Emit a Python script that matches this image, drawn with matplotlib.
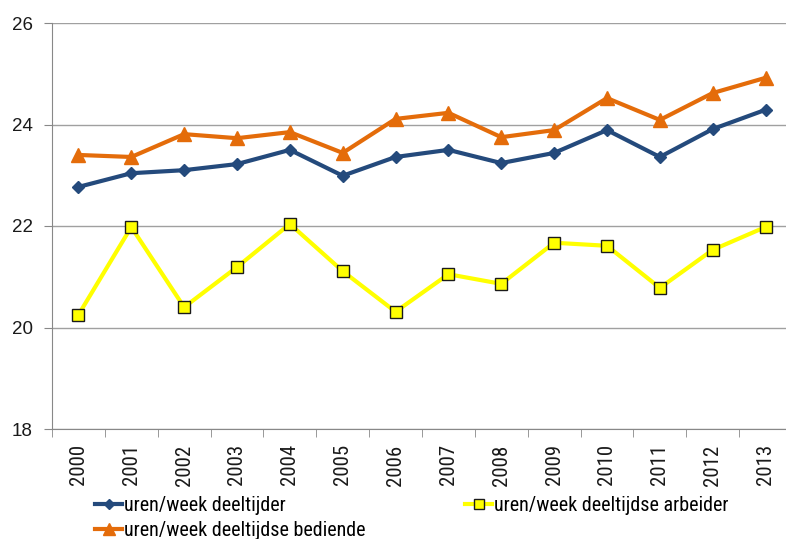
import matplotlib
matplotlib.use("Agg")
import matplotlib.pyplot as plt
from matplotlib import font_manager

years = ["2000", "2001", "2002", "2003", "2004", "2005", "2006", "2007",
         "2008", "2009", "2010", "2011", "2012", "2013"]
deeltijder = [22.77, 23.04, 23.10, 23.22, 23.50, 22.99, 23.36, 23.50,
              23.24, 23.44, 23.89, 23.36, 23.91, 24.29]
bediende = [23.40, 23.36, 23.81, 23.73, 23.85, 23.44, 24.11, 24.23,
            23.75, 23.89, 24.52, 24.09, 24.62, 24.92]
arbeider = [20.25, 21.98, 20.40, 21.19, 22.04, 21.11, 20.31, 21.05,
            20.86, 21.67, 21.61, 20.78, 21.53, 21.98]
yticks = [18, 20, 22, 24, 26]
labels = ["uren/week deeltijder", "uren/week deeltijdse arbeider",
          "uren/week deeltijdse bediende"]

# pick a condensed sans font if one is installed
prefs = ["Liberation Sans Narrow", "Arial Narrow", "Roboto Condensed",
         "Open Sans Condensed", "Noto Sans Condensed", "DejaVu Sans Condensed"]
cands = [f for f in font_manager.fontManager.ttflist
         if ("narrow" in f.name.lower() or "condensed" in f.name.lower()
             or str(f.stretch) == "condensed")
         and f.style == "normal"]
narrow = None
for p in prefs:
    for f in cands:
        if f.name == p and f.weight in (400, "normal", "regular"):
            narrow = f
            break
    if narrow:
        break
if narrow is None and cands:
    def w(f):
        try:
            return abs(int(f.weight) - 400)
        except Exception:
            return 0 if str(f.weight) in ("normal", "regular") else 300
    narrow = sorted(cands, key=w)[0]

plt.rcParams['font.family'] = ["Liberation Sans", "DejaVu Sans"]
if narrow is not None:
    xprop = font_manager.FontProperties(fname=narrow.fname, size=15)
    lprop = font_manager.FontProperties(fname=narrow.fname, size=14.5)
else:
    xprop = font_manager.FontProperties(family="Liberation Sans", size=13)
    lprop = font_manager.FontProperties(family="Liberation Sans", size=12)
yprop = font_manager.FontProperties(family="Liberation Sans", size=13.5)

fig = plt.figure(figsize=(7.86, 5.39), dpi=100)
ax = fig.add_axes([52/786, 110/539, 740/786, 406/539])

x = list(range(len(years)))
blue = "#244a7c"
orange = "#e46c0a"
l1, = ax.plot(x, deeltijder, color=blue, lw=3, marker="D", ms=6.5,
              markeredgecolor=blue, label=labels[0], zorder=3)
l3, = ax.plot(x, bediende, color=orange, lw=3, marker="^", ms=9.5,
              markeredgecolor=orange, label=labels[2], zorder=3)
l2, = ax.plot(x, arbeider, color="#ffff00", lw=3, marker="s", ms=9,
              markerfacecolor="#ffff00", markeredgecolor="#1a1a1a",
              markeredgewidth=1, label=labels[1], zorder=3)

ax.set_xlim(-0.5, 13.5)
ax.set_ylim(18, 26)
ax.set_yticks(yticks)
ax.set_yticklabels([str(v) for v in yticks], fontproperties=yprop, color="#1a1a1a")
ax.set_xticks(x)
ax.set_xticklabels(years, rotation=90, fontproperties=xprop, color="#1a1a1a")
ax.set_xticks([i - 0.5 for i in range(len(years) + 1)], minor=True)
ax.tick_params(axis="x", which="major", length=0, pad=11)
ax.tick_params(axis="x", which="minor", length=6, color="#888888")
ax.tick_params(axis="y", length=6, color="#888888", pad=8)
ax.yaxis.grid(True, color="#a0a0a0", lw=1)
ax.set_axisbelow(True)
for s in ["top", "right"]:
    ax.spines[s].set_visible(False)
for s in ["left", "bottom"]:
    ax.spines[s].set_color("#888888")

fig.legend(handles=[l1, l3], loc="upper left", bbox_to_anchor=(95/786, 1 - 496/539),
           frameon=False, prop=lprop, handlelength=1.35, handletextpad=0.1,
           labelspacing=0.3, borderaxespad=0, borderpad=0, markerscale=0.85)
fig.legend(handles=[l2], loc="upper left", bbox_to_anchor=(465/786, 1 - 496/539),
           frameon=False, prop=lprop, handlelength=1.35, handletextpad=0.1,
           borderaxespad=0, borderpad=0, markerscale=0.85)

fig.savefig("out.png", dpi=100)
